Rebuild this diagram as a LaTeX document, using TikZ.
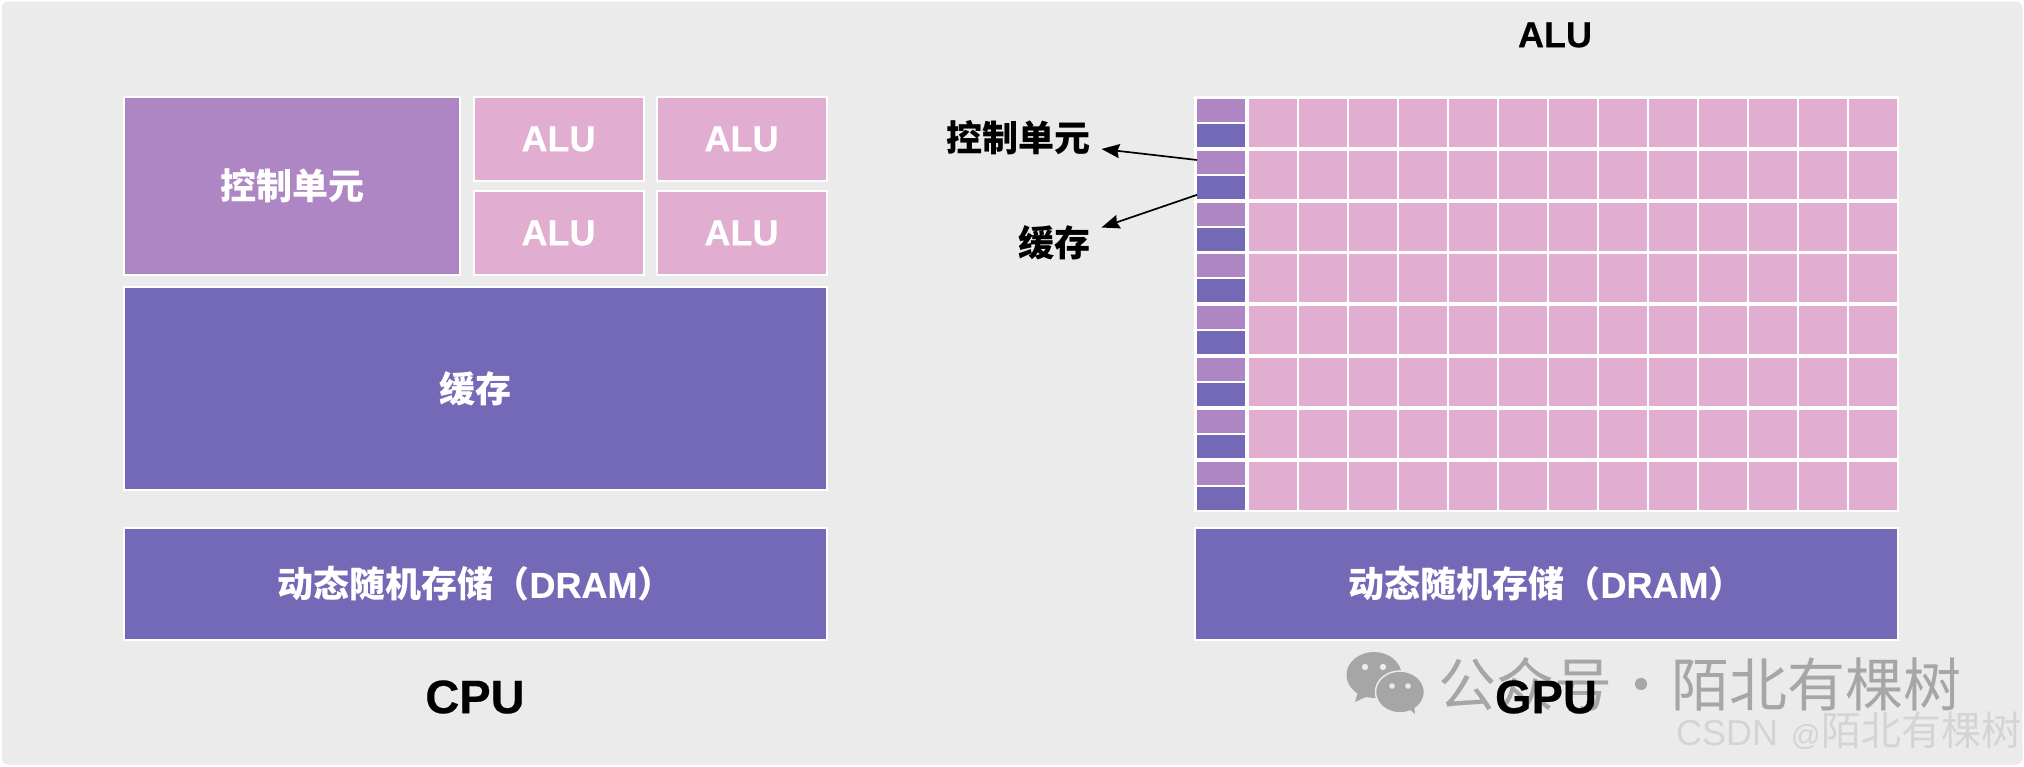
\documentclass[tikz,border=0pt]{standalone}
\usepackage{fontspec}
\setmainfont[BoldFeatures={FakeBold=0.4}]{Liberation Sans}
\newfontfamily\cjk{Noto Sans CJK SC}
\usetikzlibrary{arrows.meta}
\definecolor{bgc}{HTML}{EBEBEB}
\definecolor{ctrlc}{HTML}{AE86C4}
\definecolor{aluc}{HTML}{E1AED2}
\definecolor{memc}{HTML}{7469B6}
\definecolor{wmc}{HTML}{A6A6A6}
\definecolor{wmb}{HTML}{D4D4D4}
\newcommand{\fs}[1]{\fontsize{#1}{#1}\selectfont}
\tikzset{
  blockbox/.style={draw=white,line width=2pt,inner sep=0pt,outer sep=0pt,text=white,font=\fs{36}\bfseries},
  cellbox/.style={inner sep=0pt,outer sep=0pt,minimum width=48pt},
  caption/.style={inner sep=0pt,outer sep=0pt,text=black,font=\fs{36}\bfseries},
  pointer/.style={draw=black,line width=1.7pt,-{Stealth[length=18pt,width=14pt,inset=2pt]}},
}
\begin{document}
\begin{tikzpicture}[x=1pt,y=-1pt]
\useasboundingbox (0,0) rectangle (2024,766);
\fill[white] (0,0) rectangle (2024,766);
\fill[bgc,rounded corners=7pt] (1.5,1.5) rectangle (2022.5,764.5);

% CPU side
\node[blockbox,fill=ctrlc,minimum width=336pt,minimum height=178pt] (cpuctrl) at (292,186) {\cjk\bfseries 控制单元};
\node[blockbox,fill=aluc,minimum width=170pt,minimum height=84pt] (alua) at (558.5,139) {ALU};
\node[blockbox,fill=aluc,minimum width=170pt,minimum height=84pt] (alub) at (741.5,139) {ALU};
\node[blockbox,fill=aluc,minimum width=170pt,minimum height=84pt] (aluc) at (558.5,233) {ALU};
\node[blockbox,fill=aluc,minimum width=170pt,minimum height=84pt] (alud) at (741.5,233) {ALU};
\node[blockbox,fill=memc,minimum width=703pt,minimum height=203pt] (cpucache) at (475.5,388.5) {\cjk\bfseries 缓存};
\node[blockbox,fill=memc,minimum width=703pt,minimum height=112pt] (cpudram) at (475.5,584) {{\cjk\bfseries 动态随机存储（}DRAM{\cjk\bfseries ）}};

% GPU side
\node[fill=white,inner sep=0pt,outer sep=0pt,minimum width=705pt,minimum height=416pt] (gridbg) at (1546.5,304) {};
\foreach \yy [count=\r from 0] in {99,151,203,254,306,358,410,462}{
  \node[cellbox,fill=ctrlc,minimum height=23pt] (c\r) at (1221,\yy+11.5) {};
  \node[cellbox,fill=memc,minimum height=23pt] (k\r) at (1221,\yy+36.5) {};
  \foreach \c in {0,...,12}{
    \node[cellbox,fill=aluc,minimum height=48pt] (a\r-\c) at (1273+50*\c,\yy+24) {};
  }
}
\node[blockbox,fill=memc,minimum width=703pt,minimum height=112pt] (gpudram) at (1546.5,584) {{\cjk\bfseries 动态随机存储（}DRAM{\cjk\bfseries ）}};

\node[caption] (alutop) at (1555,35) {ALU};
\node[caption,anchor=east] (lblctrl) at (1090,138) {\cjk\bfseries 控制单元};
\node[caption,anchor=east] (lblcache) at (1090,243) {\cjk\bfseries 缓存};
\coordinate (tipctrl) at (1101.5,149);
\coordinate (tipcache) at (1101.5,227.5);
\draw[pointer] (c1.174) -- (tipctrl);
\draw[pointer] (k1.197) -- (tipcache);

% watermark
\fill[wmc] (1374,675) ellipse [x radius=27.5,y radius=23];
\fill[wmc] (1358,692) -- (1355,702) -- (1370,695) -- cycle;
\fill[wmc,draw=bgc,line width=1.5pt] (1400,692) ellipse [x radius=24.5,y radius=21];
\fill[wmc] (1408,708) -- (1415,714) -- (1414,703) -- cycle;
\fill[bgc] (1365,667) circle [radius=3.2];
\fill[bgc] (1383,667) circle [radius=3.2];
\fill[bgc] (1392,686) circle [radius=2.8];
\fill[bgc] (1408,686) circle [radius=2.8];
\node[inner sep=0pt,outer sep=0pt,anchor=west,text=wmc,font=\fs{58}\cjk] (wma) at (1438,684) {公众号\hspace{0pt}·\hspace{2pt}陌北有棵树};
\node[inner sep=0pt,outer sep=0pt,anchor=west,text=wmb,font=\fs{36}] (wmb) at (1676,731) {CSDN\hspace{13pt}{\fs{29}@}\hspace{1pt}{\fs{40}\cjk 陌北有棵树}};

\node[caption,font=\fs{47}\bfseries] (cpulbl) at (475,697) {CPU};
\node[caption,font=\fs{47}\bfseries] (gpulbl) at (1546,697) {GPU};
\end{tikzpicture}
\end{document}
